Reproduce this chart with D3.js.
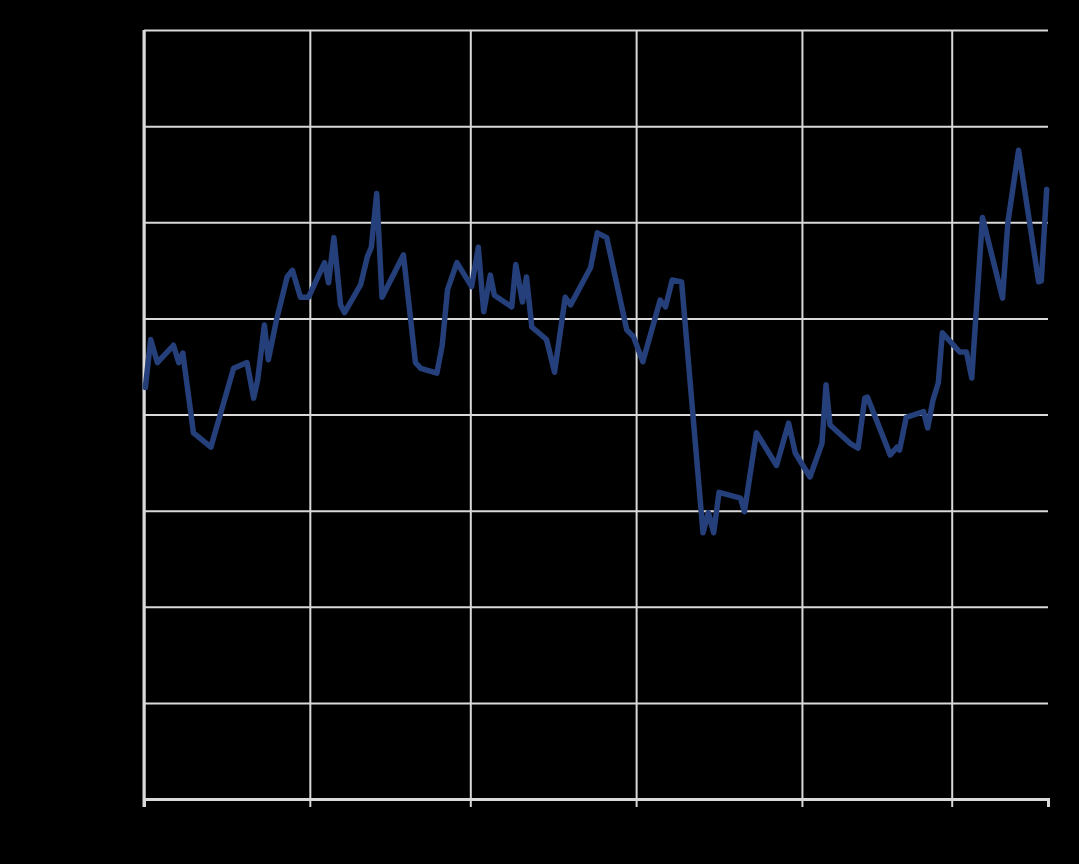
<!DOCTYPE html>
<html>
<head>
<meta charset="utf-8">
<script src="https://cdn.jsdelivr.net/npm/d3@7"></script>
<style>
  html, body { margin: 0; padding: 0; background: #000; }
</style>
</head>
<body>
<div id="chart"></div>
<script>
// dates of the readings (quarter-day resolution)
var dates = [
  "2012-10-01T06:00", "2012-10-02T06:00", "2012-10-03T12:00", "2012-10-06T12:00", "2012-10-07T12:00",
  "2012-10-08T06:00", "2012-10-10T06:00", "2012-10-13T12:00", "2012-10-17T18:00", "2012-10-20T06:00",
  "2012-10-21T12:00", "2012-10-22T06:00", "2012-10-23T12:00", "2012-10-24T06:00", "2012-10-25T18:00",
  "2012-10-27T18:00", "2012-10-28T18:00", "2012-10-30T06:00", "2012-10-31T18:00", "2012-11-03T18:00",
  "2012-11-04T12:00", "2012-11-05T12:00", "2012-11-06T18:00", "2012-11-07T12:00", "2012-11-10T12:00",
  "2012-11-11T18:00", "2012-11-12T12:00", "2012-11-13T12:00", "2012-11-14T12:00", "2012-11-18T12:00",
  "2012-11-20T18:00", "2012-11-21T18:00", "2012-11-24T18:00", "2012-11-25T18:00", "2012-11-26T18:00",
  "2012-11-28T12:00", "2012-12-01T06:00", "2012-12-02T12:00", "2012-12-03T12:00", "2012-12-04T18:00",
  "2012-12-05T12:00", "2012-12-08T18:00", "2012-12-09T12:00", "2012-12-10T18:00", "2012-12-11T12:00",
  "2012-12-12T12:00", "2012-12-15T06:00", "2012-12-16T18:00", "2012-12-18T18:00", "2012-12-19T18:00",
  "2012-12-23T12:00", "2012-12-24T18:00", "2012-12-26T12:00", "2012-12-30T06:00", "2012-12-31T12:00",
  "2013-01-02T06:00", "2013-01-05T12:00", "2013-01-06T12:00", "2013-01-07T18:00", "2013-01-09T12:00",
  "2013-01-13T12:00", "2013-01-14T12:00", "2013-01-15T12:00", "2013-01-16T12:00", "2013-01-20T12:00",
  "2013-01-21T06:00", "2013-01-23T12:00", "2013-01-27T06:00", "2013-01-29T12:00", "2013-01-30T18:00",
  "2013-02-02T12:00", "2013-02-04T18:00", "2013-02-05T12:00", "2013-02-06T06:00", "2013-02-10T00:00",
  "2013-02-11T12:00", "2013-02-12T18:00", "2013-02-13T06:00", "2013-02-17T12:00", "2013-02-18T18:00",
  "2013-02-19T06:00", "2013-02-20T12:00", "2013-02-23T18:00", "2013-02-24T12:00", "2013-02-25T12:00",
  "2013-02-26T12:00", "2013-02-27T06:00", "2013-03-02T12:00", "2013-03-03T18:00", "2013-03-04T18:00",
  "2013-03-06T18:00", "2013-03-10T12:00", "2013-03-11T12:00", "2013-03-13T12:00", "2013-03-17T06:00",
  "2013-03-17T18:00", "2013-03-18T18:00"
];

// series values
var values = [
  42.8, 47.8, 45.4, 47.2, 45.4,
  46.4, 38.1, 36.6, 44.8, 45.4,
  41.7, 43.6, 49.3, 45.7, 49.8,
  54.3, 55.0, 52.2, 52.2, 55.8,
  53.7, 58.4, 51.4, 50.6, 53.5,
  56.4, 57.4, 63.0, 52.2, 56.6,
  45.4, 44.8, 44.3, 47.2, 53.0,
  55.8, 53.3, 57.4, 50.7, 54.5,
  52.4, 51.2, 55.6, 51.7, 54.3,
  49.1, 47.8, 44.4, 52.2, 51.4,
  55.3, 58.9, 58.4, 48.8, 48.1,
  45.5, 51.9, 51.2, 54.0, 53.8,
  27.7, 29.8, 27.7, 31.9, 31.3,
  29.9, 38.1, 34.7, 39.1, 36.0,
  33.5, 37.0, 43.1, 38.9, 37.0,
  36.5, 41.7, 41.8, 35.8, 36.6,
  36.3, 39.7, 40.3, 38.6, 41.5,
  43.3, 48.5, 46.5, 46.5, 43.8,
  60.5, 52.1, 60.0, 67.5, 53.8,
  53.9, 63.4
];

// axis ticks
var xTickDates = ["2012-10-01", "2012-11-01", "2012-12-01", "2013-01-01", "2013-02-01", "2013-03-01"];
var xDomain = ["2012-10-01", "2013-03-19"];
var yTicks = [0, 10, 20, 30, 40, 50, 60, 70, 80];

var margin = { top: 30, right: 31, bottom: 65, left: 144 },
    width = 1079 - margin.left - margin.right,
    height = 864 - margin.top - margin.bottom;

var parseTime = d3.timeParse("%Y-%m-%dT%H:%M");
var parseDay = d3.timeParse("%Y-%m-%d");

var data = dates.map(function (d, i) { return { date: parseTime(d), value: values[i] }; });

var svg = d3.select("#chart")
    .append("svg")
    .attr("width", width + margin.left + margin.right)
    .attr("height", height + margin.top + margin.bottom)
    .style("display", "block");

svg.append("rect")
    .attr("width", width + margin.left + margin.right)
    .attr("height", height + margin.top + margin.bottom)
    .attr("fill", "#000");

var g = svg.append("g")
    .attr("transform", "translate(" + margin.left + "," + margin.top + ")");

var x = d3.scaleTime()
    .domain(xDomain.map(parseDay))
    .range([0, width]);

var y = d3.scaleLinear()
    .domain([0, 80])
    .range([height, 0]);

var gridColor = "#d9d9d9";

// horizontal gridlines
var yGrid = g.append("g")
    .call(d3.axisLeft(y).tickValues(yTicks).tickSize(-width).tickFormat(""));
yGrid.select(".domain").remove();
yGrid.selectAll("line").attr("stroke", gridColor).attr("stroke-width", 2);

// vertical gridlines + ticks below the axis
var xAxis = g.append("g")
    .attr("transform", "translate(0," + height + ")")
    .call(d3.axisBottom(x)
        .tickValues(xTickDates.map(parseDay))
        .tickSizeInner(8)
        .tickSizeOuter(8)
        .tickFormat(""));
xAxis.selectAll(".tick line")
    .attr("y1", -height)
    .attr("stroke", gridColor)
    .attr("stroke-width", 2);
xAxis.select(".domain")
    .attr("stroke", gridColor)
    .attr("stroke-width", 3);

// left axis line
g.append("line")
    .attr("x1", 0).attr("x2", 0)
    .attr("y1", 0).attr("y2", height + 8)
    .attr("stroke", gridColor)
    .attr("stroke-width", 3);

// the series
var line = d3.line()
    .x(function (d) { return x(d.date); })
    .y(function (d) { return y(d.value); });

g.append("path")
    .datum(data)
    .attr("fill", "none")
    .attr("stroke", "#253f7a")
    .attr("stroke-width", 5.5)
    .attr("stroke-linejoin", "round")
    .attr("stroke-linecap", "round")
    .attr("d", line);
</script>
</body>
</html>
